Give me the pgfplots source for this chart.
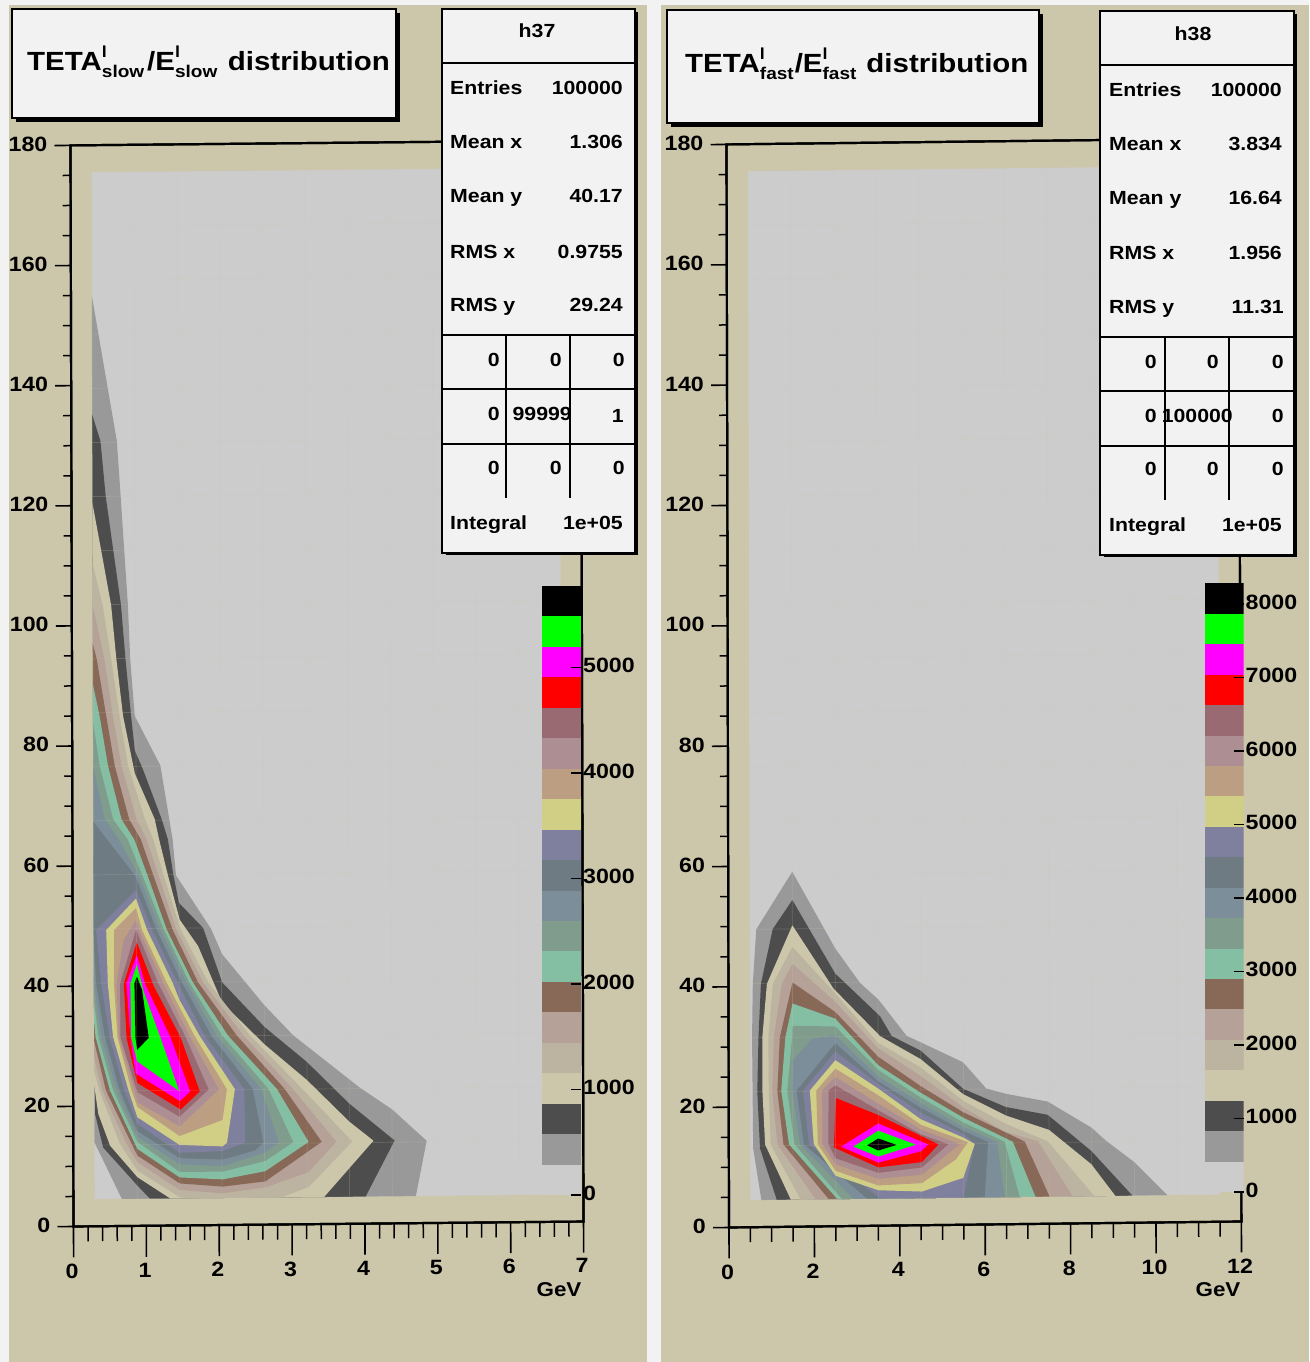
\documentclass[border=0pt]{standalone}
\usepackage{fontspec}
\setmainfont[FakeStretch=1.12]{Liberation Sans}
\usepackage{pgfplots}
\pgfplotsset{compat=1.18}
\definecolor{cbg}{HTML}{F2F2F2}
\definecolor{cz}{HTML}{CCCCCC}
\definecolor{ca}{HTML}{999999}
\definecolor{cb}{HTML}{4D4D4D}
\definecolor{cc}{HTML}{CCC6AA}
\definecolor{cd}{HTML}{BCB4A0}
\definecolor{ce}{HTML}{B5A197}
\definecolor{cf}{HTML}{886857}
\definecolor{cg}{HTML}{85BFA3}
\definecolor{ch}{HTML}{7F9C8C}
\definecolor{ci}{HTML}{7B8E9A}
\definecolor{cj}{HTML}{6E7B83}
\definecolor{ck}{HTML}{7F7F9E}
\definecolor{cl}{HTML}{D1CE86}
\definecolor{cm}{HTML}{BC9E83}
\definecolor{cn}{HTML}{AD8E93}
\definecolor{co}{HTML}{996A72}
\definecolor{pr}{HTML}{FF0000}
\definecolor{pm}{HTML}{FF00FF}
\definecolor{pg}{HTML}{00FF00}
\definecolor{pk}{HTML}{000000}
\newcommand\poly[2]{\addplot[fill=#1,draw=none,forget plot] coordinates {#2} -- cycle;}
\newcommand\seg[3]{\addplot[fill=#1,draw=none,forget plot] coordinates {(0,#2) (1,#2) (1,#3) (0,#3)} -- cycle;}
\newcommand\tf{\bfseries\fontsize{20.7}{22}\selectfont}
\pgfplotsset{
  baseax/.style={
    axis on top, xmin=0, ymin=0, ymax=180,
    tick align=outside, tick pos=left,
    every tick/.style={black,line width=1.6pt},
    minor tick style={black,line width=1.5pt},
    axis line style={black,line width=2.2pt},
    tick label style={font=\tf},
    /pgf/number format/assume math mode=true,
    anchor=origin,
  },
  yax/.style={baseax,
    major tick length=16pt, minor tick length=8pt,
    ytick={0,20,...,180}, minor y tick num=3, xtick=\empty,
    yticklabel style={inner sep=0pt,xshift=-7pt,yshift=1.5pt},
  },
  xax/.style={baseax,
    major tick length=31pt, minor tick length=15pt,
    ytick=\empty,
    xticklabel style={inner sep=0pt,xshift=-1.5pt,yshift=-6pt},
  },
  gridax/.style={
    xmin=0, ymin=0, ymax=180, anchor=origin,
    axis line style={draw=none},
    major tick length=0pt,
    xticklabels={}, yticklabels={},
    xmajorgrids, ymajorgrids,
    major grid style={cc,opacity=0.22,line width=0.7pt},
    ytick={4.5,13.5,...,175.5},
  },
  palax/.style={
    axis on top,
    axis y line=right, hide x axis, xmin=0, xmax=1, ymin=0,
    y axis line style={draw=none},
    tick align=inside, major tick length=10pt,
    every tick/.style={black,line width=1.5pt},
    tick label style={font=\tf},
    /pgf/number format/assume math mode=true,
    /pgf/number format/1000 sep={},
    yticklabel style={inner sep=0pt,xshift=2pt,yshift=2pt},
    anchor=origin,
  },
}
\newcommand\statl[3]{\node[anchor=base west,inner sep=0,font=\bfseries\fontsize{19}{20}\selectfont] at (#1,#2+1) {#3};}
\newcommand\statr[3]{\node[anchor=base east,inner sep=0,font=\bfseries\fontsize{19}{20}\selectfont] at (#1,#2+1) {#3};}
\newcommand\supsub[1]{\rlap{\raisebox{13pt}{\fontsize{16}{16}\selectfont l}}\raisebox{-7pt}{\fontsize{17}{17}\selectfont #1}}
\begin{document}
\begin{tikzpicture}
\begin{scope}[x=1pt,y=-1pt,yshift=1362pt]
\fill[cbg] (0,0) rectangle (1309,1362);
\fill[cc] (8.5,5) rectangle (647,1362);
\fill[cc] (661,5) rectangle (1309,1362);
\end{scope}

% ---------- left panel
\begin{axis}[yax, at={(73.5pt,135.5pt)}, x={(72.86pt,0.71pt)}, y={(-0.0167pt,6.006pt)}, xmax=7]
\poly{cz}{(.29,4.5) (6.71,4.5) (6.71,175.5) (.29,175.5)}
\poly{ca}{(.286,155) (.625,130.7) (.675,121.5) (.77,103.4) (.80,94.4) (.86,84.9) (1.21,76.6) (1.375,64.3) (1.42,58.3) (1.90,49.3) (2.05,45.1) (2.63,36.5) (3.02,31.5) (3.94,22.6) (4.375,19) (4.85,13.7) (4.70,4.5) (.665,4.5) (.29,14)}
\poly{cb}{(.286,135.2) (.40,130.7) (.47,121.5) (.675,103.4) (.735,94.4) (.81,84.9) (.86,79.1) (.97,76) (1.225,67.7) (1.31,64.3) (1.385,58.3) (1.46,53.7) (1.79,49.5) (2.05,40.4) (2.63,32.9) (3.21,27) (3.79,20) (4.41,13.8) (4.01,4.5) (1.05,4.5) (.88,6.7) (.41,13.1) (.30,18.7)}
\poly{cc}{(.286,120.5) (.40,112.9) (.54,103.4) (.61,94.4) (.70,84.9) (.86,75.3) (1.13,67.7) (1.19,64.3) (1.31,58.3) (1.47,50.9) (1.72,46.5) (2.05,37) (2.63,30) (3.21,24) (3.79,17) (4.12,13.8) (3.44,4.5) (1.33,4.5) (.88,8.1) (.505,13.4) (.345,18.7) (.29,23.4)}
\poly{cd}{(.286,110.4) (.423,103.4) (.538,94.4) (.652,84.9) (.767,76.6) (.996,67.7) (1.11,64.3) (1.25,58.3) (1.48,49.3) (1.86,40.4) (2.43,31.5) (3.14,22.6) (3.83,13.7) (3.23,6.2) (2.85,4.5) (1.6,4.5) (1.46,4.7) (.88,9.2) (.64,13.7) (.36,22.6) (.29,25.9)}
\poly{ce}{(.286,103.4) (.446,94.4) (.561,84.9) (.676,76.6) (.88,67.7) (1.02,64.3) (1.18,58.3) (1.42,49.3) (1.79,40.4) (2.34,31.5) (3.01,22.6) (3.61,13.7) (3.23,8.7) (2.635,6.2) (2.05,5.3) (1.46,5.9) (.88,10.6) (.73,13.7) (.40,22.6) (.29,28.1)}
\poly{cf}{(.286,97) (.341,94.4) (.469,84.9) (.584,76.6) (.78,67.7) (.94,64.3) (1.11,58.3) (1.37,49.3) (1.72,40.4) (2.25,31.5) (2.90,22.6) (3.41,13.7) (2.635,7.2) (2.05,6.4) (1.46,7) (.88,11.7) (.80,13.7) (.45,22.6) (.29,30.9)}
\poly{cg}{(.286,90.3) (.378,84.9) (.492,76.6) (.675,67.7) (.85,64.3) (1.03,58.3) (1.29,49.3) (1.65,40.4) (2.13,31.5) (2.795,22.6) (3.23,13.7) (2.635,8.9) (2.05,7.6) (1.46,8) (.88,12.8) (.505,22.6) (.31,31.5) (.29,34)}
\poly{ch}{(.286,84) (.378,76.6) (.561,67.7) (.76,64.3) (.96,58.3) (1.25,49.3) (1.60,40.4) (2.05,31.5) (2.68,22.6) (3.02,13.7) (2.635,10.6) (2.05,8.9) (1.46,8.9) (.88,14) (.55,22.6) (.35,31.5) (.29,37.6)}
\poly{ci}{(.286,76.6) (.446,67.7) (.64,64.3) (.91,58.3) (1.20,49.3) (1.56,40.4) (1.97,31.5) (2.58,22.6) (2.82,13.7) (2.635,12) (2.05,9.8) (1.46,10.2) (.88,14.9) (.60,22.6) (.39,31.5) (.29,40.4)}
\poly{cj}{(.286,67.4) (.48,64.3) (.86,58.3) (1.15,49.3) (1.50,40.4) (1.90,31.5) (2.465,22.6) (2.61,13.7) (2.50,12.4) (2.05,10.9) (1.46,11.2) (.88,15.8) (.64,22.6) (.44,31.5) (.32,40.4) (.29,47.6)}
\poly{ck}{(.87,55.9) (.32,49.3) (.39,40.4) (.50,31.5) (.70,22.6) (.88,17) (1.46,12.1) (2.05,12.3) (2.36,13.7) (2.35,22.6) (1.81,31.5) (1.44,40.4) (1.09,49.3)}
\poly{cl}{(.87,54.5) (.46,49.3) (.48,40.4) (.55,31.5) (.76,22.6) (.88,18.1) (1.46,13.4) (2.05,13.1) (2.11,13.7) (2.22,22.6) (1.74,31.5) (1.46,37.6) (1.37,40.4) (1.02,49.3)}
\poly{cm}{(.87,52.9) (.57,49.3) (.565,40.4) (.61,31.5) (.80,22.6) (.88,19.8) (1.46,14.9) (2.05,17.5) (2.11,22.6) (1.67,31.5) (1.29,40.4) (.95,49.3)}
\poly{cn}{(.87,50.9) (.70,47.6) (.60,40.4) (.63,31.5) (.84,22.6) (.88,20.6) (1.46,16.5) (2.0,22.6) (1.60,31.5) (1.24,40.4) (.91,49.3)}
\poly{co}{(.87,49.3) (.65,40.4) (.65,31.5) (.88,22.3) (1.46,18.1) (1.86,22.6) (1.54,31.5) (1.17,40.4)}
\poly{pr}{(.88,47.2) (.70,40.4) (.735,31.3) (.88,23.8) (1.477,19.3) (1.738,22.3) (1.477,31.3) (1.11,39.9)}
\poly{pm}{(.88,45.1) (.735,40.4) (.79,31.3) (.858,25.4) (1.467,20.7) (1.605,22.3) (1.34,31.3) (.996,40.1)}
\poly{pg}{(.88,43.5) (.79,40.4) (.80,31.3) (.88,27.4) (1.454,22.4) (1.2,31.3) (.973,39)}
\poly{pk}{(.88,41.5) (.845,40.4) (.858,31.3) (.88,29.3) (1.04,31.3) (.95,39.3)}
\end{axis}
\begin{axis}[gridax, at={(73.5pt,135.5pt)}, x={(72.86pt,0.71pt)}, y={(-0.0167pt,6.006pt)}, xmax=7,
  xtick={.29,.875,1.46,2.04,2.625,3.21,3.79,4.375,4.96,5.54,6.125,6.71}]
\end{axis}
\begin{axis}[xax, at={(73.5pt,135.5pt)}, x={(72.86pt,0.71pt)}, y={(-0.0167pt,6.006pt)},
  xmax=7, xtick={0,...,7}, minor x tick num=4]
\end{axis}

% ---------- right panel
\begin{axis}[yax, at={(729pt,134.5pt)}, x={(42.7pt,0.5pt)}, y={(-0.0139pt,6.017pt)}, xmax=12]
\poly{cz}{(.5,4.5) (11.5,4.5) (11.5,175.5) (.5,175.5)}
\poly{ca}{(1.5,59) (.655,49.5) (.57,40.4) (.55,31.5) (.57,13.1) (.76,4.5) (10.27,4.5) (9.49,10.1) (8.83,13.7) (8.49,15.9) (7.47,20.3) (6.48,21.7) (6.03,22.6) (5.49,27) (4.5,30.4) (4.17,31.5) (3.51,37.6) (3.08,40.4) (2.5,46.2)}
\poly{cb}{(1.5,54.3) (1.04,49.5) (.76,40.4) (.70,31.5) (.67,22.6) (.73,13.1) (1.12,4.5) (9.45,4.5) (8.49,12) (7.47,18.1) (6.48,19.5) (5.49,22.6) (4.5,29) (3.82,31.5) (3.55,34.8) (2.5,42)}
\poly{cc}{(1.5,50.1) (.90,40.4) (.79,31.5) (.79,22.6) (.85,13.7) (1.45,4.5) (9.05,4.5) (8.49,9.8) (7.5,15.6) (6.48,18.1) (5.49,21.7) (4.5,27.6) (3.55,31.5) (2.46,39.5)}
\poly{cd}{(1.5,46.5) (1.04,40.4) (.93,31.5) (.94,22.6) (.98,13.7) (1.68,4.5) (8.56,4.5) (7.47,13.7) (6.48,16.7) (5.49,20.6) (4.5,26.2) (3.5,30.4) (2.5,38.7)}
\poly{ce}{(1.5,43.7) (1.25,40.4) (1.06,31.5) (1.02,22.6) (1.14,13.7) (2.03,4.5) (8.05,4.5) (7.24,13.7) (6.46,15.4) (5.49,19.5) (4.5,24.8) (3.5,29.5) (2.5,37.3)}
\poly{cf}{(1.5,40.6) (1.2,31.5) (1.14,22.6) (1.28,13.7) (2.34,4.5) (7.51,4.5) (6.93,13.7) (5.49,18.7) (4.5,23.1) (3.5,28.1) (2.5,35.6)}
\poly{cg}{(1.5,37.1) (1.33,31.5) (1.23,22.6) (1.41,13.7) (2.54,4.5) (7.18,4.5) (6.65,13.7) (5.49,17.8) (4.5,22) (3.5,26.7) (2.5,34.5)}
\poly{ch}{(1.5,33.4) (1.49,31.5) (1.37,22.6) (1.54,13.7) (2.65,4.5) (6.81,4.5) (6.46,13.7) (5.49,17) (4.5,21.2) (3.5,25.9) (2.5,33.2)}
\poly{ci}{(1.95,31.2) (1.5,27.6) (1.49,22.6) (1.67,13.7) (2.92,4.5) (6.46,4.5) (6.28,13.7) (5.49,16.2) (4.5,20.3) (3.5,24.8) (2.5,31.7)}
\poly{cj}{(2.5,30.4) (1.59,22.6) (1.76,13.7) (3.24,4.5) (5.99,4.5) (6.07,13.7) (5.49,15.6) (4.5,19.5) (3.5,24)}
\poly{ck}{(2.5,29) (1.74,22.6) (1.875,13.7) (3.55,4.5) (5.49,4.5) (5.76,13.5) (5.49,15.1) (4.5,18.7) (3.5,23.6)}
\poly{cl}{(2.5,27.6) (1.90,22.6) (1.99,13.7) (2.5,8.4) (3.5,5.9) (4.52,5.6) (5.49,7.8) (5.76,13.4) (5.49,14.5) (4.5,17.6) (3.5,22.8)}
\poly{cm}{(2.5,26.2) (2.05,22.6) (2.085,13.7) (2.5,9.2) (3.5,6.7) (4.52,7) (5.32,10.9) (5.6,13.7) (5.49,14) (4.5,16.7) (3.5,21.7)}
\poly{cn}{(2.5,24.8) (2.19,22.6) (2.19,13.7) (2.5,10.3) (3.5,7.8) (4.52,8.4) (5.41,13.4) (4.5,15.9) (3.5,20.3)}
\poly{co}{(2.5,23.4) (2.34,22.6) (2.33,13.7) (2.5,11.3) (3.5,8.8) (4.52,9.6) (5.14,13.4) (4.5,15.1) (3.5,19.2)}
\poly{pr}{(2.51,21.3) (2.46,13.1) (3.5,9.7) (4.52,10.5) (4.91,13.4) (3.5,18.4)}
\poly{pm}{(2.63,13.2) (3.5,17) (4.67,13.4) (4.5,12.3) (3.5,10.5)}
\poly{pg}{(2.92,13.2) (3.5,15.8) (4.38,13.4) (3.5,11.5)}
\poly{pk}{(3.24,13.4) (3.5,14.5) (3.93,13.4) (3.5,12.5)}
\end{axis}
\begin{axis}[gridax, at={(729pt,134.5pt)}, x={(42.7pt,0.5pt)}, y={(-0.0139pt,6.017pt)}, xmax=12,
  xtick={.5,1.5,...,11.5}]
\end{axis}
\begin{axis}[xax, at={(729pt,134.5pt)}, x={(42.7pt,0.5pt)}, y={(-0.0139pt,6.017pt)},
  xmax=12, xtick={0,2,...,12}, minor x tick num=3]
\end{axis}

% ---------- palettes
\begin{axis}[palax, at={(542pt,167pt)}, x={(39pt,0pt)}, y={(0pt,0.1055pt)}, ymax=5773, ytick={0,1000,...,5000}]
\seg{cz}{0}{288.6}\seg{ca}{288.6}{577}\seg{cb}{577}{866}\seg{cc}{866}{1154}\seg{cd}{1154}{1443}
\seg{ce}{1443}{1732}\seg{cf}{1732}{2020}\seg{cg}{2020}{2309}\seg{ch}{2309}{2597}\seg{ci}{2597}{2886}
\seg{cj}{2886}{3175}\seg{ck}{3175}{3463}\seg{cl}{3463}{3752}\seg{cm}{3752}{4040}\seg{cn}{4040}{4329}
\seg{co}{4329}{4618}\seg{pr}{4618}{4906}\seg{pm}{4906}{5195}\seg{pg}{5195}{5484}\seg{pk}{5484}{5773}
\end{axis}
\begin{axis}[palax, at={(1205pt,170pt)}, x={(38.5pt,0pt)}, y={(0pt,0.0735pt)}, ymax=8280, ytick={0,1000,...,8000}]
\seg{cz}{0}{414}\seg{ca}{414}{828}\seg{cb}{828}{1242}\seg{cc}{1242}{1656}\seg{cd}{1656}{2070}
\seg{ce}{2070}{2484}\seg{cf}{2484}{2898}\seg{cg}{2898}{3312}\seg{ch}{3312}{3726}\seg{ci}{3726}{4140}
\seg{cj}{4140}{4554}\seg{ck}{4554}{4968}\seg{cl}{4968}{5382}\seg{cm}{5382}{5796}\seg{cn}{5796}{6210}
\seg{co}{6210}{6624}\seg{pr}{6624}{7038}\seg{pm}{7038}{7452}\seg{pg}{7452}{7866}\seg{pk}{7866}{8280}
\end{axis}

\begin{scope}[x=1pt,y=-1pt,yshift=1362pt]
% GeV
\node[anchor=base,inner sep=0,font=\bfseries\fontsize{20}{20}\selectfont] at (559,1297) {GeV};
\node[anchor=base,inner sep=0,font=\bfseries\fontsize{20}{20}\selectfont] at (1218,1297) {GeV};
% title boxes
\fill[black] (16,13) rectangle (400,122);
\draw[black,line width=1.1pt,fill=cbg] (12,9) rectangle (396,118);
\fill[black] (671,14) rectangle (1043,127);
\draw[black,line width=1.1pt,fill=cbg] (667,10) rectangle (1039,123);
\node[anchor=base west,inner sep=0,font=\bfseries\fontsize{26.3}{26}\selectfont] at (27,71) {TETA\supsub{slow}\hspace{3pt}/E\supsub{slow}\hspace{10.5pt}distribution};
\node[anchor=base west,inner sep=0,font=\bfseries\fontsize{26.3}{26}\selectfont] at (685,73) {TETA\supsub{fast}\hspace{1pt}/E\supsub{fast}\hspace{10pt}distribution};
% stat box left
\fill[black] (445.5,12.5) rectangle (637.5,555.5);
\draw[black,line width=1.1pt,fill=cbg] (442,9) rectangle (635,553);
\draw[black,line width=1.1pt] (442,63)--(635,63) (442,335)--(635,335) (442,389)--(635,389) (442,444)--(635,444) (506,335)--(506,498) (570,335)--(570,498);
\node[anchor=base,inner sep=0,font=\bfseries\fontsize{19}{20}\selectfont] at (537,38) {h37};
\statl{450}{94}{Entries}\statr{623}{94}{100000}
\statl{450}{148}{Mean x}\statr{623}{148}{1.306}
\statl{450}{202}{Mean y}\statr{623}{202}{40.17}
\statl{450}{258}{RMS x}\statr{623}{258}{0.9755}
\statl{450}{311}{RMS y}\statr{623}{311}{29.24}
\statr{500}{366}{0}\statr{562}{366}{0}\statr{625}{366}{0}
\statr{500}{420}{0}\statr{572}{420}{99999}\statr{624}{422}{1}
\statr{500}{474}{0}\statr{562}{474}{0}\statr{625}{474}{0}
\statl{450}{529}{Integral}\statr{623}{529}{1e+05}
% stat box right
\fill[black] (1103.5,14.5) rectangle (1296.5,557.5);
\draw[black,line width=1.1pt,fill=cbg] (1100,11) rectangle (1294,555);
\draw[black,line width=1.1pt] (1100,65)--(1294,65) (1100,337)--(1294,337) (1100,391)--(1294,391) (1100,446)--(1294,446) (1165,337)--(1165,500) (1229,337)--(1229,500);
\node[anchor=base,inner sep=0,font=\bfseries\fontsize{19}{20}\selectfont] at (1193,41) {h38};
\statl{1109}{96}{Entries}\statr{1282}{96}{100000}
\statl{1109}{150}{Mean x}\statr{1282}{150}{3.834}
\statl{1109}{204}{Mean y}\statr{1282}{204}{16.64}
\statl{1109}{259}{RMS x}\statr{1282}{259}{1.956}
\statl{1109}{313}{RMS y}\statr{1284}{313}{11.31}
\statr{1157}{368}{0}\statr{1219}{368}{0}\statr{1284}{368}{0}
\statr{1157}{422}{0}\statr{1233}{422}{100000}\statr{1284}{422}{0}
\statr{1157}{475}{0}\statr{1219}{475}{0}\statr{1284}{475}{0}
\statl{1109}{531}{Integral}\statr{1282}{531}{1e+05}
\end{scope}
\end{tikzpicture}
\end{document}
